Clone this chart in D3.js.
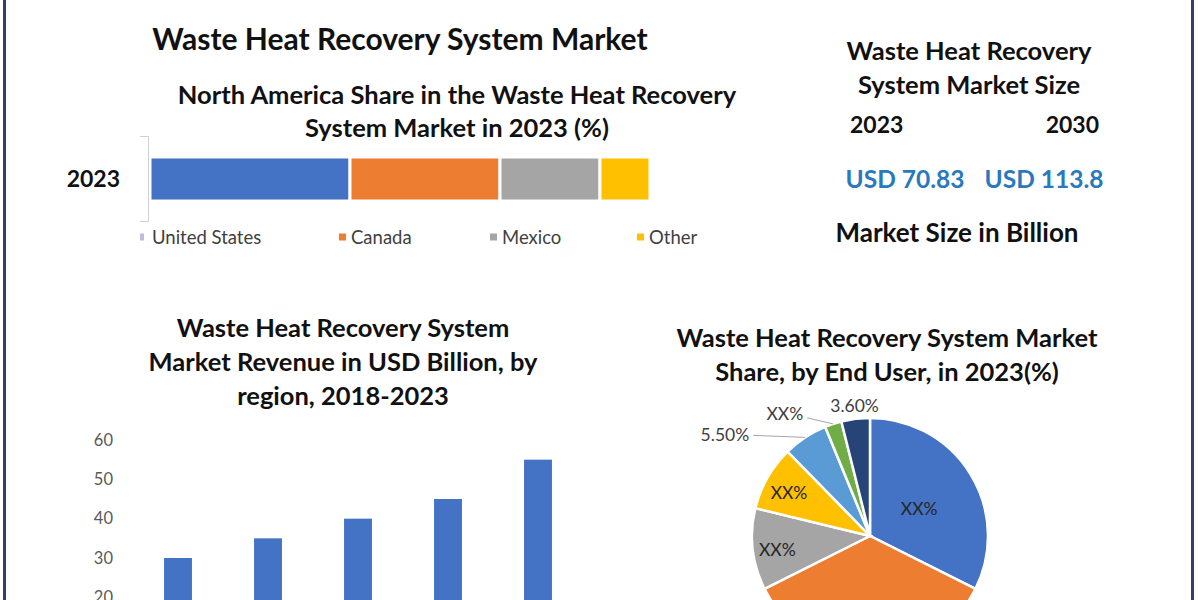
<!DOCTYPE html>
<html>
<head>
<meta charset="utf-8">
<script src="https://cdn.jsdelivr.net/npm/d3@7"></script>
<style>
  html, body { margin: 0; padding: 0; background: #fff; }
  svg { display: block; font-family: Lato, "Open Sans", sans-serif; }
</style>
</head>
<body>
<svg id="chart" width="1200" height="600"></svg>
<script>
// ---------- DATA ----------
const mainTitle = "Waste Heat Recovery System Market";

const shareTitle = ["North America Share in the Waste Heat Recovery", "System Market in 2023 (%)"];
const shareYear = ["2023"];
const shareCountries = ["United States", "Canada", "Mexico", "Other"];
const shareValues = [40, 30, 20, 10];

const sizeTitle = ["Waste Heat Recovery", "System Market Size"];
const sizeYears = ["2023", "2030"];
const sizeValues = ["USD 70.83", "USD 113.8"];
const sizeUnit = "Market Size in Billion";

const revenueTitle = ["Waste Heat Recovery System", "Market Revenue in USD Billion, by", "region, 2018-2023"];
const revenueCategories = ["2019", "2020", "2021", "2022", "2023"];
const revenueValues = [30, 35, 40, 45, 55];
const revenueTicks = [0, 10, 20, 30, 40, 50, 60];

const pieTitle = ["Waste Heat Recovery System Market", "Share, by End User, in 2023(%)"];
const pieSegments = ["Segment A", "Segment B", "Segment C", "Segment D", "Segment E", "Segment F", "Segment G"];
const pieValues = [32.4, 35.2, 11.2, 8.9, 6.1, 2.3, 3.9];
const pieLabels = ["XX%", "", "XX%", "XX%", "5.50%", "XX%", "3.60%"];

// ---------- STYLE ----------
const shareColors = ["#4472C4", "#ED7D31", "#A5A5A5", "#FFC000"];
const legendMarkerColors = ["#b9bde0", "#ED7D31", "#A5A5A5", "#FFC000"];
const pieColors = ["#4472C4", "#ED7D31", "#A5A5A5", "#FFC000", "#5B9BD5", "#70AD47", "#264478"];
const titleColor = "#111";
const blueText = "#2A78BE";
const H = 25.5;

const svg = d3.select("#chart");

// borders
svg.append("rect").attr("x", 3).attr("y", 0).attr("width", 3).attr("height", 600).attr("fill", "#30406a");
svg.append("rect").attr("x", 1191).attr("y", 0).attr("width", 3).attr("height", 600).attr("fill", "#30406a");

function titleLines(lines, cx, y0, dy, size) {
  const t = svg.append("g");
  lines.forEach((s, i) => {
    t.append("text").attr("x", cx).attr("y", y0 + i * dy)
      .attr("text-anchor", "middle").attr("font-weight", 700)
      .attr("font-size", size).attr("fill", titleColor).text(s);
  });
}

// ---------- main title ----------
titleLines([mainTitle], 400, 50, 0, 30);

// ---------- stacked share bar ----------
titleLines(shareTitle, 457, 104, 33, H);

const xShare = d3.scaleLinear().domain([0, 100]).range([150, 650]);
const yShare = d3.scaleBand().domain(shareYear).range([136, 222]).padding(0.354);

let cum = 0;
const stacked = shareValues.map((v, i) => { const d = { key: shareCountries[i], x0: cum, x1: cum + v, i }; cum += v; return d; });

svg.append("g").selectAll("rect").data(stacked).join("rect")
  .attr("x", d => xShare(d.x0))
  .attr("width", d => xShare(d.x1) - xShare(d.x0))
  .attr("y", yShare("2023") - 1.5)
  .attr("height", yShare.bandwidth() + 3)
  .attr("fill", d => shareColors[d.i])
  .attr("stroke", "#fff").attr("stroke-width", 3);

// y axis bracket
const yAxisShare = d3.axisLeft(yShare).tickSize(0).tickPadding(28);
const gys = svg.append("g").attr("transform", "translate(148,0)").call(yAxisShare);
gys.select(".domain").attr("stroke", "#d0d0d0").attr("stroke-width", 1)
  .attr("d", "M-8,136.5H0.5V221.5H-8");
gys.selectAll("text").attr("font-size", 23).attr("font-weight", 700).attr("fill", titleColor)
  .attr("font-family", "Lato, sans-serif").attr("dy", "0.35em");

// legend
const legendX = [140, 339, 490, 637];
const lg = svg.append("g");
shareCountries.forEach((c, i) => {
  const w = i === 0 ? 4 : 7;
  lg.append("rect").attr("x", legendX[i]).attr("y", 233.5).attr("width", w).attr("height", 7)
    .attr("fill", legendMarkerColors[i]);
  lg.append("text").attr("x", legendX[i] + 12).attr("y", 243.5)
    .attr("font-size", 18.5).attr("fill", "#404040").text(c);
});

// ---------- market size panel ----------
titleLines(sizeTitle, 969, 60, 34, H);
svg.append("text").attr("x", 850).attr("y", 133).attr("font-size", 23).attr("font-weight", 700).attr("fill", titleColor).text(sizeYears[0]);
svg.append("text").attr("x", 1099).attr("y", 133).attr("text-anchor", "end").attr("font-size", 23).attr("font-weight", 700).attr("fill", titleColor).text(sizeYears[1]);
svg.append("text").attr("x", 905).attr("y", 188).attr("text-anchor", "middle").attr("font-size", 24.5).attr("font-weight", 700).attr("fill", blueText).text(sizeValues[0]);
svg.append("text").attr("x", 1044).attr("y", 188).attr("text-anchor", "middle").attr("font-size", 24.5).attr("font-weight", 700).attr("fill", blueText).text(sizeValues[1]);
svg.append("text").attr("x", 957).attr("y", 242).attr("text-anchor", "middle").attr("font-size", 26).attr("font-weight", 700).attr("fill", titleColor).text(sizeUnit);

// ---------- revenue bar chart ----------
titleLines(revenueTitle, 343, 337, 34, H);

const xRev = d3.scaleBand().domain(revenueCategories).range([133, 583]).paddingInner(0.69).paddingOuter(0.345);
const yRev = d3.scaleLinear().domain([0, 60]).range([676, 440]);

const gyr = svg.append("g").attr("transform", "translate(121,0)")
  .call(d3.axisLeft(yRev).tickValues(revenueTicks).tickSize(0).tickPadding(8));
gyr.select(".domain").remove();
gyr.selectAll("text").attr("font-size", 16.5).attr("fill", "#595959").attr("font-family", "Lato, sans-serif");

svg.append("g").selectAll("rect").data(revenueValues).join("rect")
  .attr("x", (d, i) => xRev(revenueCategories[i]))
  .attr("width", xRev.bandwidth())
  .attr("y", d => yRev(d))
  .attr("height", d => yRev(0) - yRev(d))
  .attr("fill", "#4472C4");

// ---------- pie chart ----------
titleLines(pieTitle, 887, 347, 34, H);

const cx = 870, cy = 536, R = 118;
const pie = d3.pie().sort(null).value(d => d)(pieValues);
const arc = d3.arc().innerRadius(0).outerRadius(R);
const gp = svg.append("g").attr("transform", `translate(${cx},${cy})`);
gp.selectAll("path").data(pie).join("path")
  .attr("d", arc)
  .attr("fill", (d, i) => pieColors[i])
  .attr("stroke", "#fff").attr("stroke-width", 2.5);

// labels
pie.forEach((d, i) => {
  const mid = (d.startAngle + d.endAngle) / 2;
  const frac = d.value / 100;
  const lab = pieLabels[i];
  if (!lab) return;
  if (frac >= 0.08) {
    const rr = frac > 0.2 ? R * 0.49 : R * 0.79;
    gp.append("text")
      .attr("x", Math.sin(mid) * rr).attr("y", -Math.cos(mid) * rr + 3)
      .attr("text-anchor", "middle").attr("dy", "0.35em")
      .attr("font-size", 17.5).attr("fill", "#262626").text(lab);
  } else {
    const ex = Math.sin(mid) * R, ey = -Math.cos(mid) * R;
    if (i === 4) {
      gp.append("polyline").attr("points", `${ex},${ey} ${ex - 52},${ey - 2}`)
        .attr("fill", "none").attr("stroke", "#a6a6a6").attr("stroke-width", 1);
      gp.append("text").attr("x", ex - 56).attr("y", ey - 3).attr("dy", "0.35em")
        .attr("text-anchor", "end").attr("font-size", 17.5).attr("fill", "#404040").text(lab);
    } else if (i === 5) {
      gp.append("polyline").attr("points", `${ex},${ey} ${ex - 26},${ey - 6}`)
        .attr("fill", "none").attr("stroke", "#a6a6a6").attr("stroke-width", 1);
      gp.append("text").attr("x", ex - 30).attr("y", ey - 10).attr("dy", "0.35em")
        .attr("text-anchor", "end").attr("font-size", 17.5).attr("fill", "#404040").text(lab);
    } else {
      gp.append("text").attr("x", ex - 1).attr("y", ey - 13).attr("dy", "0.35em")
        .attr("text-anchor", "middle").attr("font-size", 17.5).attr("fill", "#404040").text(lab);
    }
  }
});
</script>
</body>
</html>
